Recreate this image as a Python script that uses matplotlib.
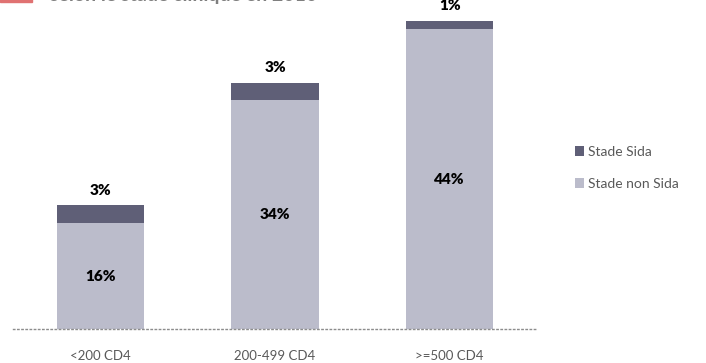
import matplotlib
matplotlib.use('Agg')
import matplotlib.pyplot as plt
from matplotlib.patches import Rectangle

plt.rcParams['font.family'] = ['Lato', 'DejaVu Sans']

categories = ['<200 CD4', '200-499 CD4', '>=500 CD4']
non_sida = [15.7, 33.9, 44.4]
sida = [2.6, 2.6, 1.3]
non_sida_labels = ['16%', '34%', '44%']
sida_labels = ['3%', '3%', '1%']
series_names = ['Stade Sida', 'Stade non Sida']

DARK = '#5f5f77'
LIGHT = '#bbbccb'
GRAY = '#595959'

W, H = 706, 363
fig = plt.figure(figsize=(W / 100, H / 100), dpi=100)
ax = fig.add_axes([13 / W, 1 - 329 / H, (537 - 13) / W, 329 / H])

x = range(len(categories))
ax.bar(x, non_sida, width=0.5, color=LIGHT, label=series_names[1])
ax.bar(x, sida, width=0.5, bottom=non_sida, color=DARK, label=series_names[0])

for i in x:
    ax.text(i, non_sida[i] / 2, non_sida_labels[i], ha='center', va='center',
            fontsize=11, fontweight='heavy', color='black')
    ax.annotate(sida_labels[i], (i, non_sida[i] + sida[i]), xytext=(0, 11),
                textcoords='offset points', ha='center', va='center',
                fontsize=11, fontweight='heavy', color='black',
                annotation_clip=False)

ax.set_xlim(-0.5, 2.5)
ax.set_ylim(0, 329 / 6.75)
ax.set_xticks(list(x))
ax.set_xticklabels(categories, fontsize=9.5, color=GRAY)
ax.tick_params(axis='x', length=0, pad=15)
ax.set_yticks([])
for s in ['top', 'right', 'left']:
    ax.spines[s].set_visible(False)
ax.spines['bottom'].set_linestyle((0, (1, 2)))
ax.spines['bottom'].set_color('#8c8c8c')
ax.spines['bottom'].set_linewidth(1)

handles, labels = ax.get_legend_handles_labels()
leg = fig.legend(handles[::-1], labels[::-1], loc='center left',
                 bbox_to_anchor=(562 / W, 1 - 168 / H), frameon=False,
                 fontsize=10, handlelength=0.7, handleheight=0.7,
                 handletextpad=0.25, labelspacing=1.45, labelcolor=GRAY)

# title cut off at the top edge
fig.patches.append(Rectangle((0, 1 - 2 / H), 32 / W, 4 / H, transform=fig.transFigure,
                             color='#e07272', clip_on=False))
fig.text(50 / W, 1 + 4 / H, 'selon le stade clinique en 2010', ha='left', va='center',
         fontsize=14, fontweight='bold', color='#7f7f7f')

fig.savefig('out.png', dpi=100)
